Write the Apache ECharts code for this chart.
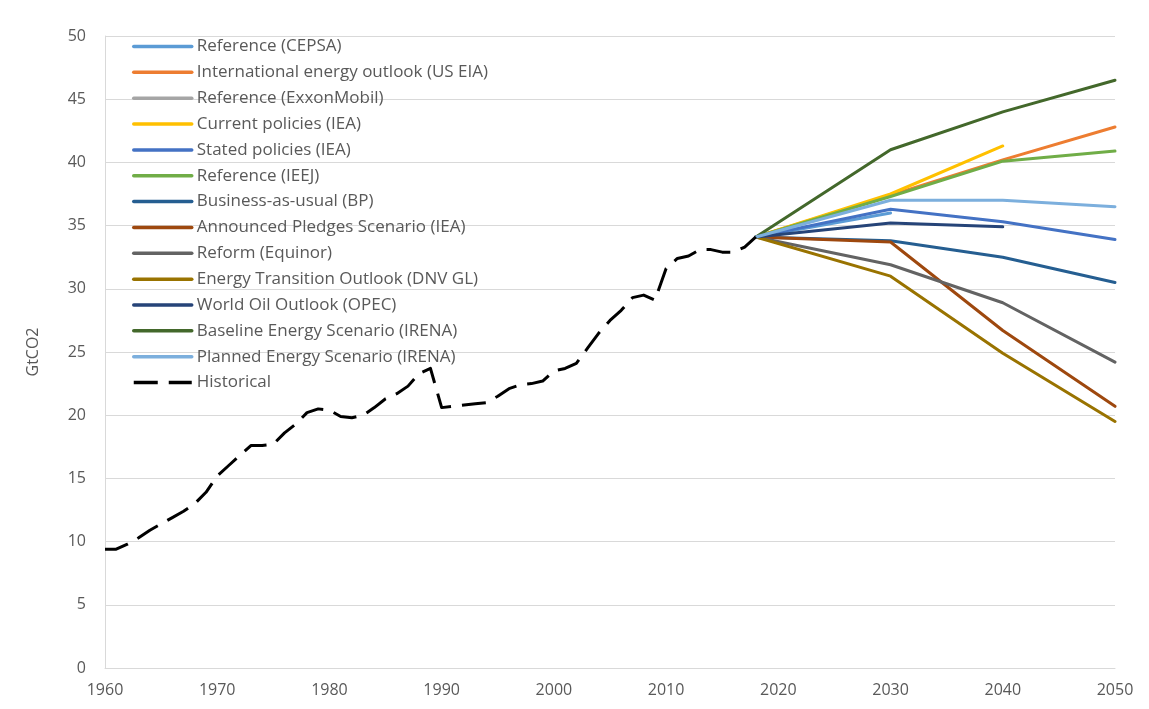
<!DOCTYPE html>
<html>
<head>
<meta charset="utf-8">
<script src="https://cdn.jsdelivr.net/npm/echarts@6/dist/echarts.min.js"></script>
<style>
html,body{margin:0;padding:0;background:#fff;}
#chart{width:1149px;height:709px;}
</style>
</head>
<body>
<div id="chart"></div>
<script>
const histYears = [1960,1961,1962,1963,1964,1965,1966,1967,1968,1969,1970,1971,1972,1973,1974,1975,1976,1977,1978,1979,1980,1981,1982,1983,1984,1985,1986,1987,1988,1989,1990,1991,1992,1993,1994,1995,1996,1997,1998,1999,2000,2001,2002,2003,2004,2005,2006,2007,2008,2009,2010,2011,2012,2013,2014,2015,2016,2017,2018];
const histValues = [9.4,9.4,9.8,10.3,10.9,11.4,11.9,12.4,13.0,13.9,15.2,16.0,16.8,17.6,17.6,17.7,18.6,19.3,20.2,20.5,20.4,19.9,19.8,20.0,20.6,21.3,21.7,22.3,23.3,23.7,20.6,20.7,20.8,20.9,21.0,21.5,22.1,22.4,22.5,22.7,23.5,23.7,24.1,25.3,26.5,27.5,28.3,29.3,29.5,29.1,31.6,32.4,32.6,33.1,33.1,32.9,32.9,33.3,34.1];

const projYears = [2018, 2030, 2040, 2050];
const cepsa        = [34.1, 36.0, null, null];
const usEia        = [34.1, 37.4, 40.2, 42.8];
const exxon        = [null, null, null, null];
const currentIEA   = [34.1, 37.5, 41.3, null];
const statedIEA    = [34.1, 36.3, 35.3, 33.9];
const ieej         = [34.1, 37.3, 40.1, 40.9];
const bp           = [34.1, 33.8, 32.5, 30.5];
const pledgesIEA   = [34.1, 33.7, 26.7, 20.7];
const equinor      = [34.1, 31.9, 28.9, 24.2];
const dnvgl        = [34.1, 31.0, 24.9, 19.5];
const opec         = [34.1, 35.2, 34.9, null];
const baselineIRENA= [34.1, 41.0, 44.0, 46.5];
const plannedIRENA = [34.1, 37.0, 37.0, 36.5];

const xTicks = [1960,1970,1980,1990,2000,2010,2020,2030,2040,2050];
const yTicks = [0,5,10,15,20,25,30,35,40,45,50];

const projSeries = [
  ['Reference (CEPSA)', cepsa, '#5B9BD5'],
  ['International energy outlook (US EIA)', usEia, '#ED7D31'],
  ['Reference (ExxonMobil)', exxon, '#A5A5A5'],
  ['Current policies (IEA)', currentIEA, '#FFC000'],
  ['Stated policies (IEA)', statedIEA, '#4472C4'],
  ['Reference (IEEJ)', ieej, '#70AD47'],
  ['Business-as-usual (BP)', bp, '#255E91'],
  ['Announced Pledges Scenario (IEA)', pledgesIEA, '#9E480E'],
  ['Reform (Equinor)', equinor, '#636363'],
  ['Energy Transition Outlook (DNV GL)', dnvgl, '#997300'],
  ['World Oil Outlook (OPEC)', opec, '#264478'],
  ['Baseline Energy Scenario (IRENA)', baselineIRENA, '#43682B'],
  ['Planned Energy Scenario (IRENA)', plannedIRENA, '#7CAFDD']
];

const font = '"Open Sans", "Noto Sans", Arial, sans-serif';
const series = projSeries.map(([name, vals, color]) => ({
  name, type: 'line', symbol: 'none', showSymbol: false, smooth: false,
  data: projYears.map((y, i) => [y, vals[i]]),
  lineStyle: { color, width: 3, cap: 'round', join: 'round' },
  itemStyle: { color },
  z: 2
}));
series.push({
  name: 'Historical', type: 'line', symbol: 'none', showSymbol: false,
  data: histYears.map((y, i) => [y, histValues[i]]),
  lineStyle: { color: '#000', width: 3, type: [24, 11], cap: 'butt', join: 'round' },
  itemStyle: { color: '#000' },
  z: 3
});

const chart = echarts.init(document.getElementById('chart'));
chart.setOption({
  animation: false,
  backgroundColor: '#fff',
  grid: { left: 105, right: 34, top: 36, bottom: 41 },
  legend: {
    orient: 'vertical', left: 127, top: 33,
    itemWidth: 58, itemHeight: 14, itemGap: 8.85,
    selectedMode: false,
    itemStyle: { opacity: 0 },
    lineStyle: { width: 3.5 },
    textStyle: { color: '#595959', fontSize: 17, lineHeight: 16, fontFamily: font },
    data: series.map(s => s.name)
  },
  xAxis: {
    type: 'value', min: 1960, max: 2050, interval: 10,
    axisLine: { show: true, lineStyle: { color: '#D9D9D9', width: 1 } },
    axisTick: { show: false },
    splitLine: { show: false },
    axisLabel: { color: '#595959', fontSize: 16, fontFamily: font, margin: 14,
      formatter: v => xTicks.includes(v) ? String(v) : '' }
  },
  yAxis: {
    type: 'value', min: 0, max: 50, interval: 5,
    name: 'GtCO2', nameLocation: 'middle', nameGap: 64, nameRotate: 90,
    nameTextStyle: { color: '#595959', fontSize: 16, fontFamily: font },
    axisLine: { show: true, lineStyle: { color: '#D9D9D9', width: 1 } },
    axisTick: { show: false },
    splitLine: { show: true, lineStyle: { color: '#D9D9D9', width: 1 } },
    axisLabel: { color: '#595959', fontSize: 16, fontFamily: font, margin: 19,
      formatter: v => yTicks.includes(v) ? String(v) : '' }
  },
  series
});
</script>
</body>
</html>
